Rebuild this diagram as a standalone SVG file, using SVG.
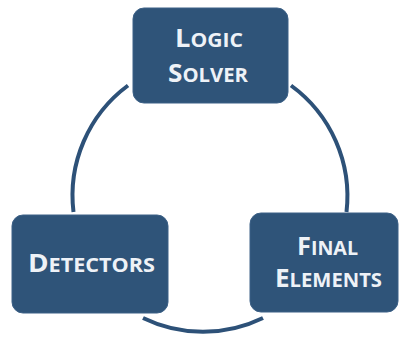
<svg xmlns="http://www.w3.org/2000/svg" width="399" height="338" viewBox="0 0 399 338">
<style>
.box{fill:#2f5479;stroke:#3d6187;stroke-width:1}
.arc{fill:none;stroke:#2d5178;stroke-width:4}
.t{font-family:"Open Sans","Liberation Sans",sans-serif;font-weight:bold;fill:#eef2f7;text-anchor:middle}
.b{font-size:24.5px}
.s{font-size:19px}
</style>
<rect width="399" height="338" fill="#ffffff"/>
<g id="connectors">
<path class="arc" d="M128,85.5 A137,137 0 0 0 73.5,212"/>
<path class="arc" d="M291,85.5 A137,137 0 0 1 346.5,212"/>
<path class="arc" d="M143,318 A137,137 0 0 0 263,318"/>
</g>
<g id="logic-solver">
<rect class="box" x="133" y="8" width="155" height="95" rx="11"/>
<text class="t" x="209" y="47" textLength="68" lengthAdjust="spacingAndGlyphs"><tspan class="b">L</tspan><tspan class="s">OGIC</tspan></text>
<text class="t" x="208" y="82" textLength="80" lengthAdjust="spacingAndGlyphs"><tspan class="b">S</tspan><tspan class="s">OLVER</tspan></text>
</g>
<g id="detectors">
<rect class="box" x="12" y="215" width="156" height="98" rx="11"/>
<text class="t" x="91.5" y="272" textLength="127" lengthAdjust="spacingAndGlyphs"><tspan class="b">D</tspan><tspan class="s">ETECTORS</tspan></text>
</g>
<g id="final-elements">
<rect class="box" x="250" y="213" width="148" height="99" rx="11"/>
<text class="t" x="327.5" y="255" textLength="61" lengthAdjust="spacingAndGlyphs"><tspan class="b">F</tspan><tspan class="s">INAL</tspan></text>
<text class="t" x="328.5" y="287" textLength="107" lengthAdjust="spacingAndGlyphs"><tspan class="b">E</tspan><tspan class="s">LEMENTS</tspan></text>
</g>
</svg>
